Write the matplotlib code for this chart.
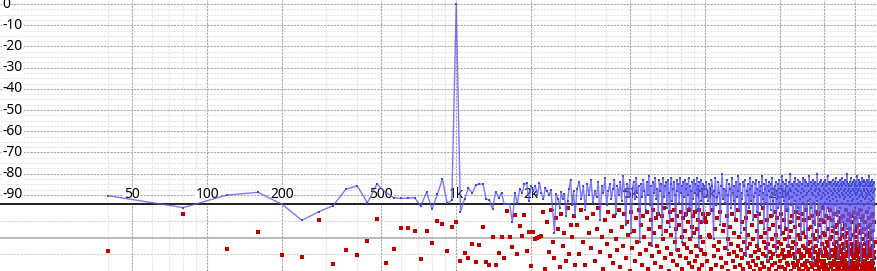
import numpy as np
import matplotlib
matplotlib.use("Agg")
import matplotlib.pyplot as plt

# FFT spectrum (dB) - bins
# segment A: 40 Hz bins up to 3 kHz
blue_a = [-90.4, -96, -90.1, -88.8, -94.5, -102, -98, -95.1, -87.4, -85.7,
          -93.7, -84.9, -88.8, -91.3, -91.7, -91.5, -91.3, -95.3, -88.8, -96.7,
          -89.8, -82.5, -94, -92.5, 0,
          -98, -92, -86.8, -89.2, -85.4, -84.9, -84.9, -92, -92.5, -96.7,
          -88.5, -91.3, -89, -94.5, -94.5, -94.3, -103, -89, -94, -87,
          -89, -85, -84.5, -93, -86,
          -88, -86, -90, -84.5, -89, -92, -86.8, -88.4, -90, -87.6,
          -97, -108, -89.5, -91.8, -96, -88.7, -92, -89.5, -100, -93,
          -87, -82.8, -95, -88, -99.4]
red_a = [-116.5, -99.2, -115.6, -107.4, -118.4, -119.3, -102, -122.6, -116, -118.2,
         -111.8, -101.6, -122.3, -115.3, -105.8, -105.8, -107, -120.3, -107, -112.9,
         -102.4, -103.5, -116.4, -105.3, -103,
         -121, -117.3, -119.7, -113.4, -121.5, -113.7, -105, -121.5, -123, -110,
         -123, -117.3, -109.8, -119.7, -97.6, -110, -114.5, -99.5, -118, -104.7,
         -109.4, -99.5, -116.5, -107.7, -123.4,
         -107.7, -111, -110.5, -110, -109.5, -98, -125, -103, -117, -97,
         -112, -120, -101, -106, -124, -99, -114, -108, -121, -96,
         -118, -104, -110, -100, -123]

# segment B: 60 Hz steps, 3 kHz - 10 kHz
blue_b = [-87, -84, -92, -86, -97, -85, -90, -83, -94, -88, -91, -84, -102, -86, -89, -82, -95, -88, -85, -92,
          -87, -83, -99, -86, -90, -84, -93, -81, -88, -104, -85, -91, -83, -108, -87, -84, -92, -82, -89, -86,
          -112, -85, -91, -83, -88, -97, -84, -90, -81, -95, -86, -114, -84, -89, -82, -92, -87, -99, -83, -88,
          -85, -109, -82, -91, -86, -84, -96, -83, -89, -105, -85, -82, -93, -87, -84, -90, -116, -83, -88, -85,
          -94, -82, -89, -86, -112, -84, -91, -83, -87, -100, -85, -90, -82, -96, -86, -88, -110, -84, -92, -83,
          -89, -85, -97, -82, -90, -86, -115, -84, -88, -83, -93, -87, -85, -103, -86, -91]
red_b = [-104, -118, -97, -112, -123, -101, -108, -115, -99, -121, -106, -96, -117, -110, -125, -102, -113, -98, -119, -107,
         -122, -100, -111, -116, -97, -124, -105, -114, -99, -120, -103, -109, -126, -98, -115, -107, -121, -101, -112, -97,
         -118, -104, -123, -100, -110, -116, -98, -125, -106, -113, -102, -119, -97, -108, -122, -101, -114, -99, -117, -105,
         -124, -100, -111, -96, -120, -107, -115, -103, -126, -98, -109, -118, -102, -121, -97, -112, -106, -123, -100, -116,
         -104, -119, -98, -110, -125, -101, -113, -107, -120, -99, -115, -103, -122, -97, -111, -117, -105, -124, -100, -108,
         -121, -98, -114, -106, -119, -102, -125, -97, -110, -116, -103, -123, -99, -112, -118, -101]

# segment C: 100 Hz steps, 10 kHz - 48 kHz
blue_c = [-87, -84, -90, -93, -85, -99, -83, -86, -111, -88, -82, -95, -91, -84, -89, -104, -86, -80, -92, -87,
          -94, -88, -83, -116, -90, -85, -87, -96, -82, -89, -93, -86, -101, -84, -91, -88, -81, -97, -85, -108,
          -89, -92, -84, -86, -83, -94, -119, -88, -85, -90, -96, -82, -87, -93, -86, -84, -102, -91, -89, -85,
          -83, -98, -87, -113, -84, -90, -88, -86, -95, -81, -92, -89, -106, -85, -87, -94, -83, -90, -121, -86,
          -88, -84, -91, -97, -85, -89, -82, -93, -100, -87, -86, -90, -84, -117, -92, -88, -85, -96, -83, -89,
          -94, -86, -109, -81, -87, -91, -84, -93, -88, -105, -85, -90, -83, -97, -86, -89, -114, -84, -92, -87,
          -80, -95, -88, -85, -91, -103, -86, -84, -89, -93, -82, -120, -87, -90, -85, -96, -88, -83, -99, -86,
          -92, -84, -110, -89, -87, -85, -94, -82, -91, -88, -107, -86, -83, -97, -90, -84, -115, -89, -86, -93,
          -85, -88, -81, -101, -92, -87, -84, -96, -89, -86, -122, -83, -90, -85, -94, -88, -104, -84, -91, -87,
          -86, -93, -80, -89, -112, -85, -90, -87, -98, -84, -88, -92, -83, -118, -86, -91, -85, -95, -89, -84,
          -102, -87, -90, -83, -94, -86, -88, -108, -85, -92, -81, -96, -89, -84, -91, -87, -119, -85, -93, -88,
          -84, -97, -86, -90, -105, -83, -89, -92, -85, -87, -113, -88, -84, -95, -82, -91, -86, -100, -89, -85,
          -93, -87, -84, -120, -90, -86, -88, -83, -96, -91, -85, -109, -87, -82, -94, -89, -86, -103, -84, -90,
          -88, -85, -92, -87, -116, -83, -91, -86, -89, -97, -84, -80, -106, -88, -93, -85, -90, -87, -123, -86,
          -91, -84, -89, -95, -82, -88, -111, -86, -93, -85, -90, -99, -87, -84, -92, -88, -117, -83, -89, -86,
          -96, -85, -90, -87, -104, -84, -92, -81, -89, -86, -114, -88, -94, -83, -91, -87, -85, -101, -90, -84,
          -86, -93, -88, -121, -85, -89, -82, -97, -90, -86, -108, -84, -91, -87, -95, -83, -88, -112, -86, -92,
          -84, -89, -98, -85, -91, -87, -118, -83, -90, -86, -94, -88, -84, -105, -92, -81, -89, -96, -86, -115,
          -90, -85, -88, -93, -84, -110, -87, -91, -83, -99, -86, -89, -120, -85, -92, -88, -95, -84, -107, -87]
red_c = [-118, -103, -121, -99, -109, -110, -125, -97, -114, -119, -106, -123, -101, -116, -112, -98, -120, -124, -107, -104,
         -115, -122, -100, -111, -126, -118, -105, -113, -99, -121, -117, -108, -124, -102, -119, -114, -97, -110, -123, -116,
         -103, -120, -125, -112, -106, -118, -101, -115, -122, -109, -98, -124, -113, -119, -104, -121, -111, -126, -100, -117,
         -123, -107, -114, -120, -99, -116, -125, -110, -103, -122, -118, -96, -112, -124, -108, -119, -115, -102, -121, -113,
         -106, -125, -117, -100, -120, -111, -123, -104, -118, -114, -98, -122, -109, -126, -115, -101, -119, -112, -124, -105,
         -121, -113, -99, -118, -124, -108, -116, -120, -102, -125, -111, -119, -106, -122, -97, -114, -123, -110, -117, -103,
         -119, -126, -107, -115, -100, -122, -112, -118, -124, -105, -120, -113, -98, -117, -123, -109, -101, -121, -116, -125,
         -111, -104, -120, -118, -123, -99, -114, -126, -108, -119, -102, -122, -115, -110, -124, -97, -117, -121, -106, -113,
         -125, -116, -101, -119, -112, -122, -105, -118, -124, -100, -115, -120, -109, -123, -103, -117, -126, -111, -98, -121,
         -114, -107, -123, -120, -99, -118, -125, -104, -116, -121, -110, -102, -124, -117, -113, -122, -96, -119, -108, -126,
         -103, -121, -115, -124, -109, -117, -100, -123, -112, -119, -125, -106, -114, -120, -101, -118, -122, -111, -97, -116,
         -124, -110, -119, -102, -122, -116, -126, -107, -113, -121, -99, -118, -123, -105, -115, -120, -112, -125, -104, -117,
         -108, -122, -98, -119, -114, -124, -103, -120, -117, -111, -126, -101, -116, -121, -109, -123, -106, -118, -113, -100,
         -120, -115, -125, -110, -104, -121, -118, -97, -123, -112, -117, -108, -124, -102, -119, -114, -126, -99, -116, -122,
         -111, -123, -106, -118, -125, -100, -117, -121, -113, -103, -124, -119, -109, -115, -122, -98, -120, -126, -107, -114,
         -118, -101, -124, -116, -110, -122, -105, -119, -125, -112, -99, -121, -117, -123, -104, -115, -120, -108, -126, -113,
         -97, -120, -114, -123, -107, -118, -124, -102, -116, -121, -111, -125, -100, -119, -122, -106, -117, -113, -124, -103,
         -121, -116, -109, -125, -118, -98, -123, -114, -120, -105, -119, -126, -112, -101, -122, -117, -110, -124, -115, -108,
         -123, -104, -119, -117, -126, -111, -100, -121, -116, -124, -107, -118, -122, -99, -114, -125, -120, -103, -117, -112]

x_labels = ['50', '100', '200', '500', '1k', '2k', '5k', '10k', '20k']
x_label_pos = [50, 100, 200, 500, 1000, 2000, 5000, 10000, 20000]
x_major_grid = [50, 100, 200, 500, 1000, 2000, 5000, 10000, 20000, 30000, 40000]
x_minor_grid = [40, 60, 70, 80, 90, 300, 400, 600, 700, 800, 900,
                3000, 4000, 6000, 7000, 8000, 9000]
y_labels = [0, -10, -20, -30, -40, -50, -60, -70, -80, -90]

def freqs(start, step, vals):
    return start + step * np.arange(len(vals))

f_blue = np.concatenate([freqs(40, 40, blue_a), freqs(3060, 60, blue_b), freqs(10000, 100, blue_c)])
v_blue = np.concatenate([blue_a, blue_b, blue_c])
f_red = np.concatenate([freqs(40, 40, red_a), freqs(3060, 60, red_b), freqs(10000, 100, red_c)])
v_red = np.concatenate([red_a, red_b, red_c])

fig = plt.figure(figsize=(8.77, 2.71), dpi=100)
ax = fig.add_axes([0, 0, 1, 1])
ax.set_xscale('log')
ax.set_xlim(14.7, 49000)
ax.set_ylim(-125.9, 1.9)
ax.axis('off')

dash = (0, (2, 1))
# horizontal grid
for y in np.arange(0, -92.5, -2.5):
    if y % 10 == 0:
        ax.axhline(y, color='#a8a8a8', lw=0.8, ls=dash, zorder=0.5)
    else:
        ax.axhline(y, color='#e6e6e6', lw=0.8, ls=dash, zorder=0.3)
ax.axhline(-102.4, color='#d4d4d4', lw=0.8, ls=dash, zorder=0.3)
ax.axhline(-117.9, color='#d4d4d4', lw=0.8, ls=dash, zorder=0.3)
ax.axhline(-110.4, color='#b4b4b4', lw=1.3, zorder=0.4)
ax.axhline(-94.3, color='#202020', lw=1.4, zorder=0.6)

# vertical grid
for x in x_major_grid:
    ax.axvline(x, color='#a8a8a8', lw=0.8, ls=dash, zorder=0.5)
for x in x_minor_grid:
    ax.axvline(x, color='#e6e6e6', lw=0.8, ls=dash, zorder=0.3)

font = dict(family='Noto Sans', fontsize=10, color='black')
box = dict(facecolor='white', edgecolor='none', pad=0.3)
for x, t in zip(x_label_pos, x_labels):
    ax.text(x, -90, t, ha='center', va='center', bbox=box, zorder=1, **font)
for y in y_labels:
    ax.text(15.0, y, str(y), ha='left', va='center', bbox=box, zorder=1, **font)

# data
ax.plot(f_red, v_red, 's', color='#c00000', ms=2.3, mew=0, zorder=2)
ax.plot(f_blue, v_blue, color='#6256ee', lw=1.0, alpha=0.8, zorder=2.5)
ax.plot(f_blue, v_blue, 's', color='#3b4cd6', ms=2.0, mew=0, zorder=3)

fig.savefig('out.png', dpi=100)
